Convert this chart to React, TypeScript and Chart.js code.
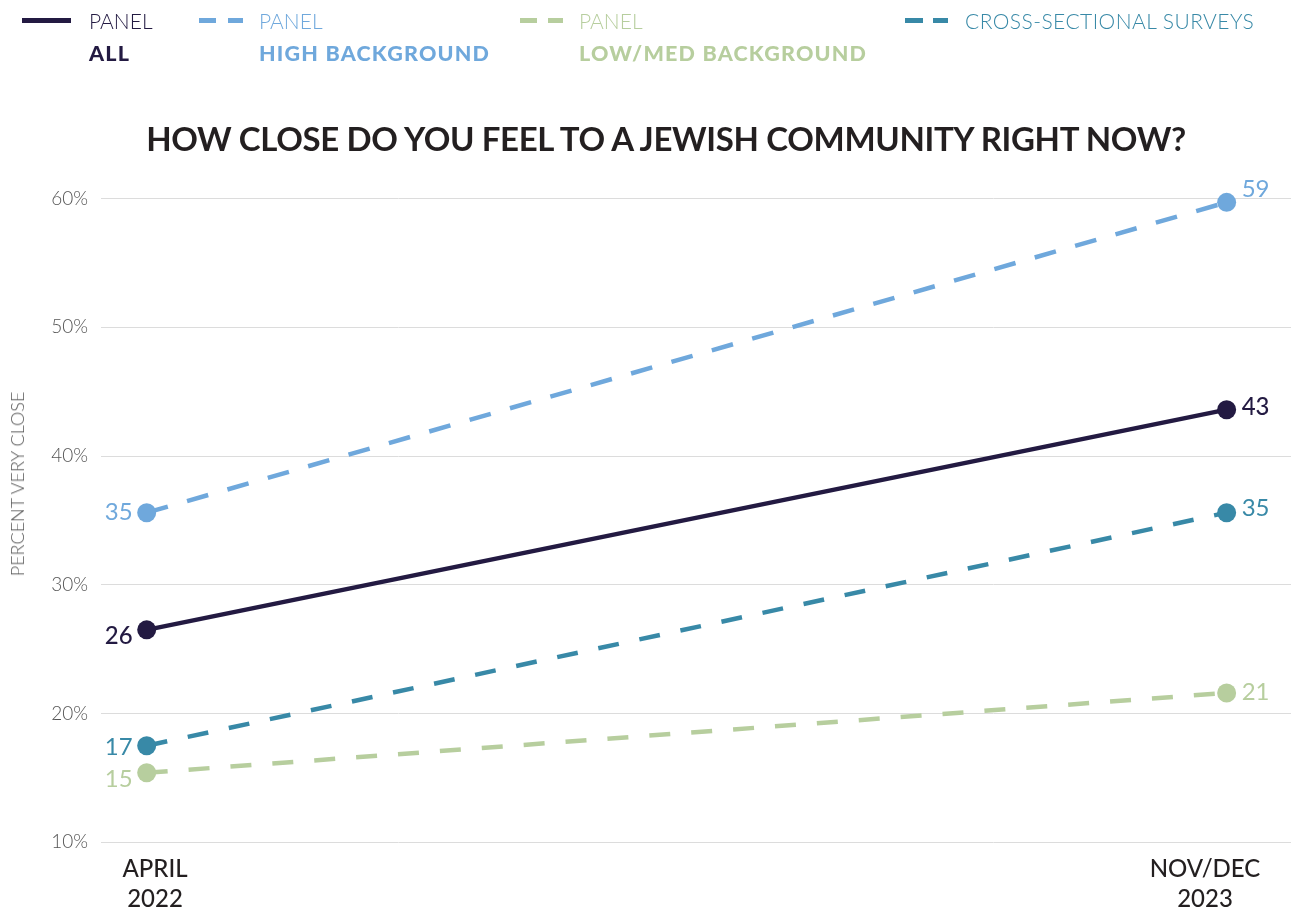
import React, { useEffect, useRef } from "react";
import { Chart, registerables } from "chart.js";

Chart.register(...registerables);

// ---- data ----
const categories: string[][] = [["APRIL", "2022"], ["NOV/DEC", "2023"]];
const panelAll = [26.5, 43.6];
const panelHigh = [35.6, 59.7];
const panelLowMed = [15.4, 21.6];
const crossSectional = [17.5, 35.6];
const panelAllLabels = ["26", "43"];
const panelHighLabels = ["35", "59"];
const panelLowMedLabels = ["15", "21"];
const crossSectionalLabels = ["17", "35"];
const yTicks = [10, 20, 30, 40, 50, 60];

const NAVY = "#231a42";
const BLUE = "#6fa8dc";
const GREEN = "#b7ce9e";
const TEAL = "#3889a7";
const FONT = "Lato, 'Noto Sans', sans-serif";

const toPoints = (vals: number[]) => vals.map((y, i) => ({ x: i, y }));

const labelPlugin = {
  id: "valueLabels",
  afterDatasetsDraw(chart: any) {
    const ctx = chart.ctx;
    chart.data.datasets.forEach((ds: any, di: number) => {
      const meta = chart.getDatasetMeta(di);
      const st = ds.labelStyle;
      meta.data.forEach((pt: any, i: number) => {
        ctx.save();
        ctx.font = `${st.weight} 24px ${FONT}`;
        ctx.fillStyle = ds.borderColor;
        ctx.textBaseline = "middle";
        if (i === 0) {
          ctx.textAlign = "right";
          ctx.fillText(ds.valueLabels[i], pt.x - 14, pt.y + st.dy[0]);
        } else {
          ctx.textAlign = "left";
          ctx.fillText(ds.valueLabels[i], pt.x + 15, pt.y + st.dy[1]);
        }
        ctx.restore();
      });
    });
  },
};

function makeDataset(label: string, vals: number[], labels: string[], color: string, dash: number[], weight: string, dy: number[]) {
  return {
    label,
    data: toPoints(vals),
    borderColor: color,
    backgroundColor: color,
    pointBackgroundColor: color,
    pointBorderWidth: 0,
    pointRadius: 9.5,
    borderWidth: 4.5,
    borderDash: dash,
    clip: false,
    valueLabels: labels,
    labelStyle: { weight, dy },
  } as any;
}

export default function App() {
  const ref = useRef<HTMLCanvasElement | null>(null);
  useEffect(() => {
    if (!ref.current) return;
    const chart = new Chart(ref.current, {
      type: "line",
      data: {
        datasets: [
          makeDataset("Cross-sectional surveys", crossSectional, crossSectionalLabels, TEAL, [21, 21], "400", [1.5, -4]),
          makeDataset("Panel low/med background", panelLowMed, panelLowMedLabels, GREEN, [21, 21], "400", [6, -1]),
          makeDataset("Panel high background", panelHigh, panelHighLabels, BLUE, [22, 20], "400", [0, -13]),
          makeDataset("Panel all", panelAll, panelAllLabels, NAVY, [], "500", [6.5, -2]),
        ],
      },
      options: {
        responsive: false,
        devicePixelRatio: 1,
        animation: false,
        layout: { autoPadding: false, padding: { top: 198.5, left: 0, right: 0, bottom: 0 } },
        plugins: {
          legend: { display: false },
          tooltip: { enabled: false },
          title: { display: false },
        },
        scales: {
          x: {
            type: "linear",
            min: -0.0423,
            max: 1.0596,
            grid: { display: false, drawTicks: false },
            border: { display: false },
            afterBuildTicks: (axis: any) => {
              axis.ticks = [{ value: 0.0077 }, { value: 0.98 }];
            },
            afterFit: (scale: any) => {
              scale.height = 69.7;
              scale.paddingLeft = 0;
              scale.paddingRight = 0;
            },
            ticks: {
              autoSkip: false,
              maxRotation: 0,
              padding: 12,
              color: "#231f20",
              font: { family: FONT, size: 24, weight: "500", lineHeight: 1.25 },
              callback: (v: any) => (v < 0.5 ? categories[0] : categories[1]),
            },
          },
          y: {
            min: 10,
            max: 60,
            grid: { color: "#dcdcdc", lineWidth: 1, drawTicks: false },
            border: { display: false },
            afterBuildTicks: (axis: any) => {
              axis.ticks = yTicks.map((v) => ({ value: v }));
            },
            afterFit: (scale: any) => {
              scale.width = 101;
              scale.paddingTop = 0;
              scale.paddingBottom = 0;
            },
            ticks: {
              padding: 13,
              color: "#555555",
              font: { family: FONT, size: 19, weight: "300" },
              callback: (v: any) => `${v}%`,
            },
          },
        },
      },
      plugins: [labelPlugin],
    } as any);
    return () => chart.destroy();
  }, []);

  const txt = (color: string, weight: number, size = 21, spacing = 0): React.CSSProperties => ({
    position: "absolute",
    fontFamily: FONT,
    fontSize: size,
    lineHeight: `${size}px`,
    fontWeight: weight,
    letterSpacing: spacing,
    color,
    whiteSpace: "nowrap",
  });
  const bar = (left: number, width: number, color: string): React.CSSProperties => ({
    position: "absolute",
    left,
    top: 17.5,
    width,
    height: 5,
    background: color,
  });

  return (
    <div style={{ position: "fixed", left: 0, top: 0, width: 1291, height: 912, background: "#fff", overflow: "hidden" }}>
      <canvas ref={ref} width={1291} height={912} style={{ position: "absolute", left: 0, top: 0 }} />
      {/* legend */}
      <div style={bar(22, 49, NAVY)} />
      <div style={{ ...txt(NAVY, 300), left: 89, top: 10.4 }}>PANEL</div>
      <div style={{ ...txt(NAVY, 900, 21.5, 1.2), left: 89, top: 42.8 }}>ALL</div>

      <div style={bar(199, 17, BLUE)} />
      <div style={bar(228, 15, BLUE)} />
      <div style={{ ...txt(BLUE, 300), left: 259, top: 10.4 }}>PANEL</div>
      <div style={{ ...txt(BLUE, 900, 21.5, 1.2), left: 259, top: 42.8 }}>HIGH BACKGROUND</div>

      <div style={bar(520, 17, GREEN)} />
      <div style={bar(548, 15, GREEN)} />
      <div style={{ ...txt(GREEN, 300), left: 579, top: 10.4 }}>PANEL</div>
      <div style={{ ...txt(GREEN, 900, 21.5, 1.2), left: 579, top: 42.8 }}>LOW/MED BACKGROUND</div>

      <div style={bar(905, 18, TEAL)} />
      <div style={{ ...bar(933, 15, TEAL) }} />
      <div style={{ ...txt(TEAL, 300, 21, 0.45), left: 965, top: 10.4 }}>CROSS-SECTIONAL SURVEYS</div>

      {/* title */}
      <div
        style={{
          position: "absolute",
          left: 666,
          top: 122,
          transform: "translateX(-50%)",
          fontFamily: FONT,
          fontWeight: 700,
          fontSize: 33,
          lineHeight: "33px",
          letterSpacing: -0.35,
          color: "#231f20",
          whiteSpace: "nowrap",
        }}
      >
        HOW CLOSE DO YOU FEEL TO A JEWISH COMMUNITY RIGHT NOW?
      </div>

      {/* y axis title */}
      <div
        style={{
          position: "absolute",
          left: 17,
          top: 484,
          transform: "translate(-50%, -50%) rotate(-90deg)",
          fontFamily: FONT,
          fontWeight: 300,
          fontSize: 18,
          lineHeight: "18px",
          color: "#555555",
          whiteSpace: "nowrap",
        }}
      >
        PERCENT VERY CLOSE
      </div>
    </div>
  );
}
